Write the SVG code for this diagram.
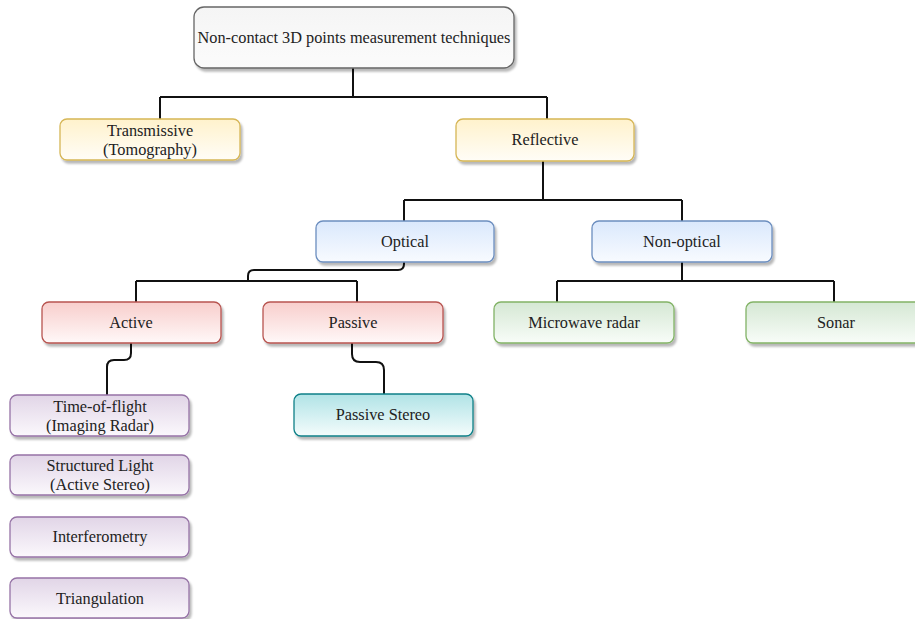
<svg xmlns="http://www.w3.org/2000/svg" width="915" height="619" viewBox="0 0 915 619">
<defs>
<filter id="sh" x="-10%" y="-20%" width="130%" height="160%">
<feDropShadow dx="2" dy="3" stdDeviation="1.2" flood-color="#000" flood-opacity="0.28"/>
</filter>
<linearGradient id="gGray" x1="0" y1="0" x2="0" y2="1"><stop offset="0" stop-color="#f5f5f5"/><stop offset="1" stop-color="#fbfbfb"/></linearGradient>
<linearGradient id="gYel" x1="0" y1="0" x2="0" y2="1"><stop offset="0" stop-color="#fff2cc"/><stop offset="1" stop-color="#fffdf7"/></linearGradient>
<linearGradient id="gBlue" x1="0" y1="0" x2="0" y2="1"><stop offset="0" stop-color="#dae8fc"/><stop offset="1" stop-color="#f8fbff"/></linearGradient>
<linearGradient id="gRed" x1="0" y1="0" x2="0" y2="1"><stop offset="0" stop-color="#f8cecc"/><stop offset="1" stop-color="#fff8f8"/></linearGradient>
<linearGradient id="gTeal" x1="0" y1="0" x2="0" y2="1"><stop offset="0" stop-color="#b0e3e6"/><stop offset="1" stop-color="#f4fcfc"/></linearGradient>
<linearGradient id="gGreen" x1="0" y1="0" x2="0" y2="1"><stop offset="0" stop-color="#d5e8d4"/><stop offset="1" stop-color="#f8fcf8"/></linearGradient>
<linearGradient id="gPurp" x1="0" y1="0" x2="0" y2="1"><stop offset="0" stop-color="#e1d5e7"/><stop offset="1" stop-color="#fbf8fc"/></linearGradient>
</defs>
<style>
rect { stroke-width: 1.3; filter: url(#sh); }
.root { fill: url(#gGray); stroke: #666666; }
.yel { fill: url(#gYel); stroke: #d6b656; }
.blue { fill: url(#gBlue); stroke: #6c8ebf; }
.red { fill: url(#gRed); stroke: #b85450; }
.teal { fill: url(#gTeal); stroke: #0e8088; }
.green { fill: url(#gGreen); stroke: #82b366; }
.purp { fill: url(#gPurp); stroke: #9673a6; }
text { font-family: "Liberation Serif", "Times New Roman", serif; font-size: 16.3px; fill: #222222; text-anchor: middle; }
.conn path { fill: none; stroke: #111111; stroke-width: 2; }
</style>
<g class="conn" id="connectors">
<path d="M353,68 V97 M160,97 H547 M160,97 V119 M547,97 V119"/>
<path d="M543,161 V200 M404,200 H682 M404,200 V221 M682,200 V221"/>
<path d="M404,262 V264 Q404,270 398,270 H254 Q248,270 248,276 V281 M136,281 H357 M136,281 V302 M357,281 V302"/>
<path d="M682,262 V281 M557,281 H834 M557,281 V302 M834,281 V302"/>
<path d="M131,343 V353 Q131,360 124,360 H114 Q107,360 107,367 V395"/>
<path d="M352,343 V354 Q352,362 360,362 H376 Q384,362 384,370 V394"/>
</g>
<g id="root"><rect class="root" x="194" y="7" width="320" height="61" rx="10"/><text x="354" y="43">Non-contact 3D points measurement techniques</text></g>
<g id="transmissive"><rect class="yel" x="60" y="119" width="180" height="41" rx="7"/><text x="150" y="135.5">Transmissive</text><text x="150" y="154.5">(Tomography)</text></g>
<g id="reflective"><rect class="yel" x="456" y="119" width="178" height="42" rx="7"/><text x="545" y="145">Reflective</text></g>
<g id="optical"><rect class="blue" x="316" y="221" width="178" height="41" rx="7"/><text x="405" y="247">Optical</text></g>
<g id="nonoptical"><rect class="blue" x="592" y="221" width="180" height="41" rx="7"/><text x="682" y="247">Non-optical</text></g>
<g id="active"><rect class="red" x="42" y="302" width="179" height="41" rx="7"/><text x="131" y="328">Active</text></g>
<g id="passive"><rect class="red" x="263" y="302" width="180" height="41" rx="7"/><text x="353" y="328">Passive</text></g>
<g id="microwave"><rect class="green" x="494" y="302" width="180" height="41" rx="7"/><text x="584" y="328">Microwave radar</text></g>
<g id="sonar"><rect class="green" x="746" y="302" width="180" height="41" rx="7"/><text x="836" y="328">Sonar</text></g>
<g id="passivestereo"><rect class="teal" x="294" y="394" width="179" height="42" rx="7"/><text x="383" y="420">Passive Stereo</text></g>
<g id="tof"><rect class="purp" x="10" y="395" width="179" height="41" rx="7"/><text x="100" y="411.5">Time-of-flight</text><text x="100" y="430.5">(Imaging Radar)</text></g>
<g id="structured"><rect class="purp" x="10" y="455" width="179" height="40" rx="7"/><text x="100" y="471">Structured Light</text><text x="100" y="490">(Active Stereo)</text></g>
<g id="interferometry"><rect class="purp" x="10" y="517" width="179" height="40" rx="7"/><text x="100" y="542">Interferometry</text></g>
<g id="triangulation"><rect class="purp" x="10" y="578" width="179" height="40" rx="7"/><text x="100" y="604">Triangulation</text></g>
</svg>
